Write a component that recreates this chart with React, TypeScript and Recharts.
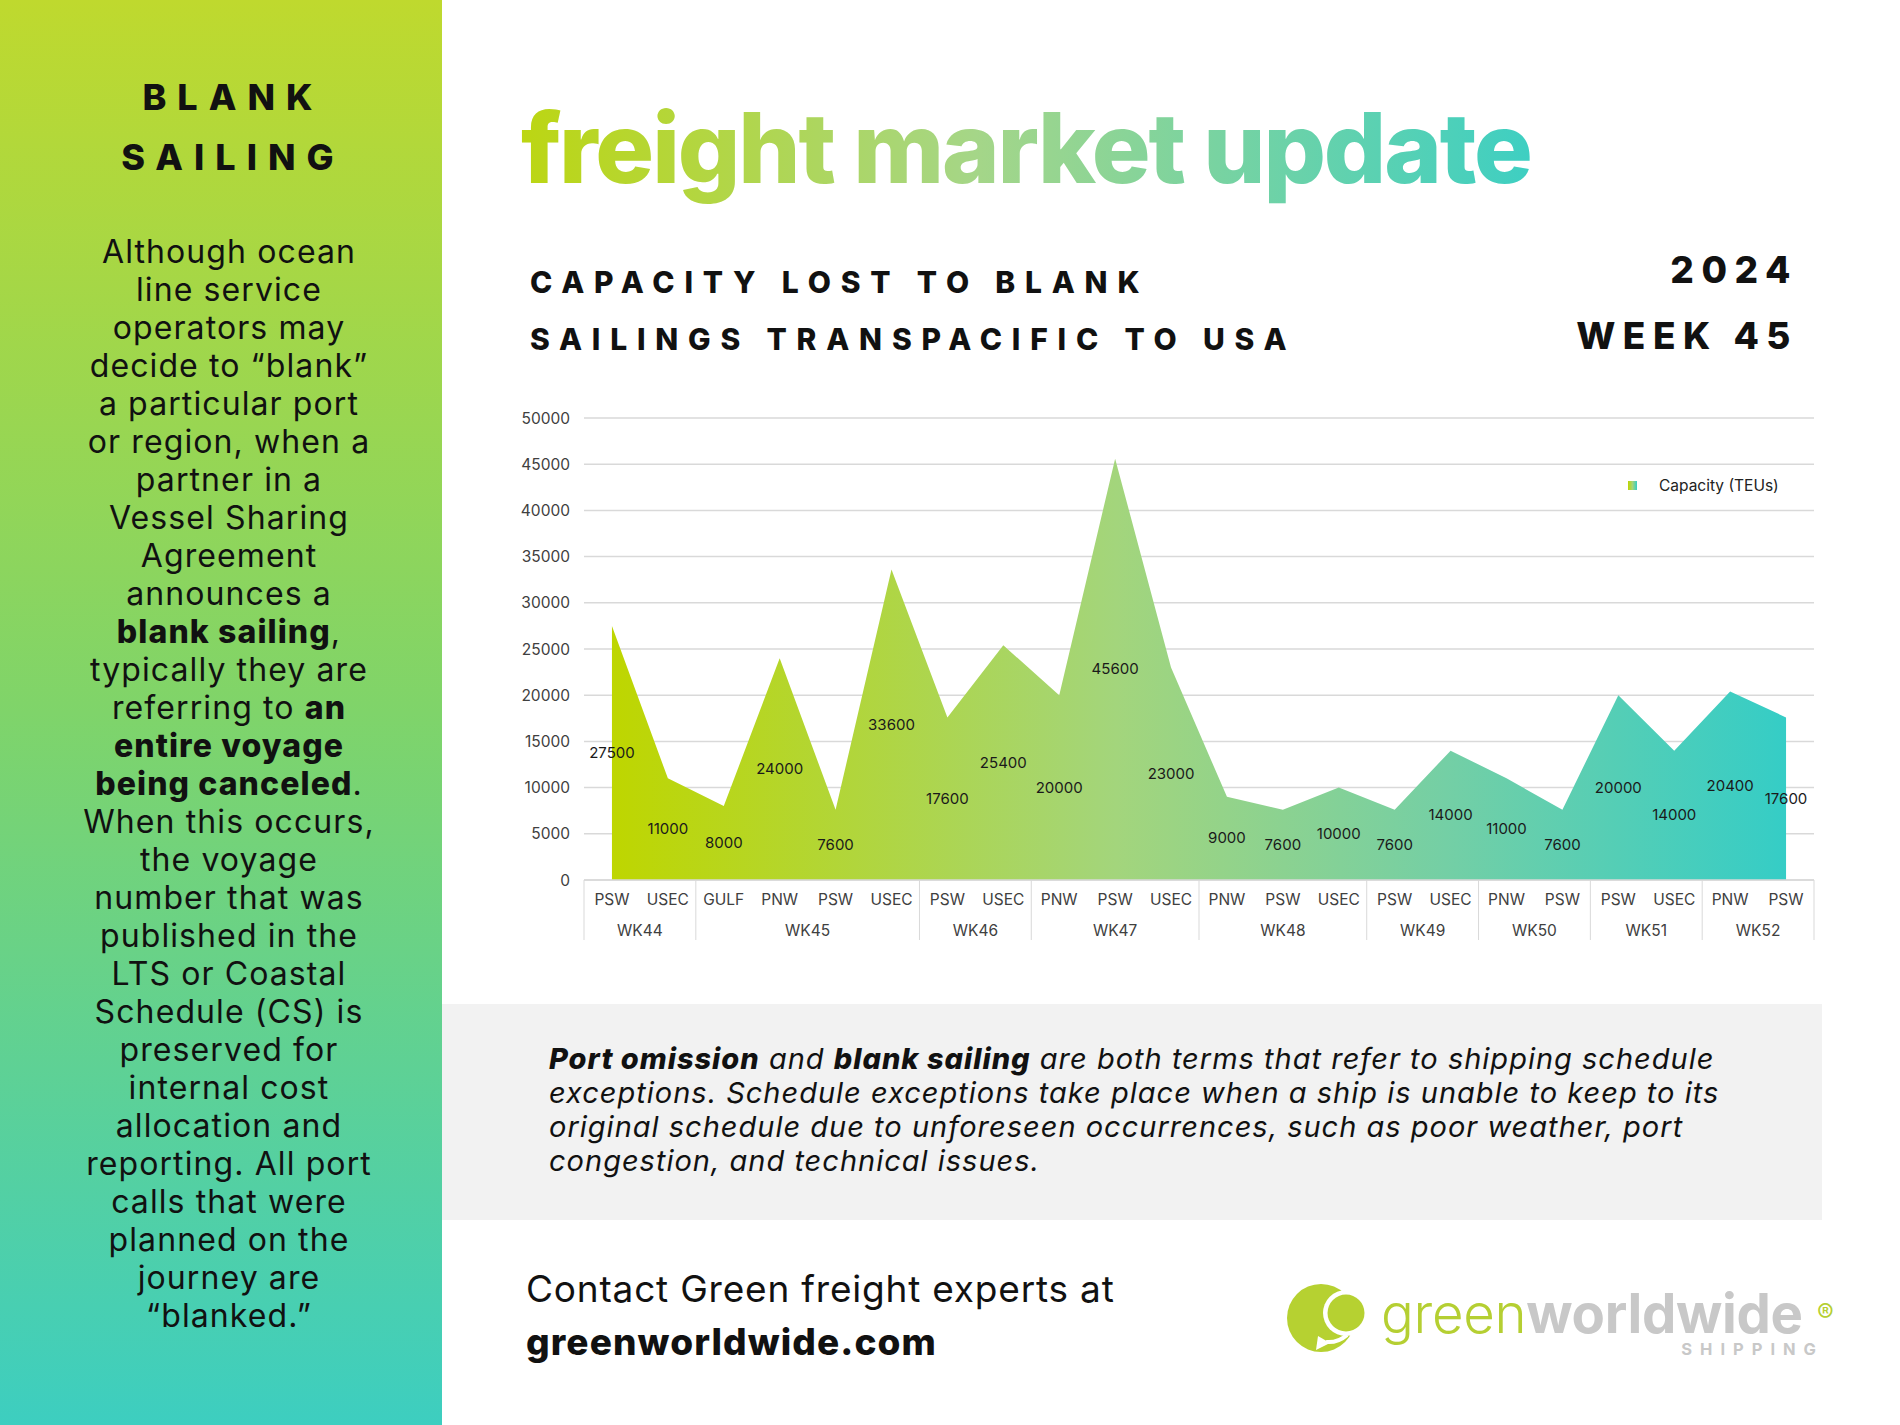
import React from 'react'
import {
  ComposedChart,
  Area,
  XAxis,
  YAxis,
  CartesianGrid,
  Legend,
  LabelList,
} from 'recharts'

// one entry per blanked sailing, in axis order
const ports = ['PSW', 'USEC', 'GULF', 'PNW', 'PSW', 'USEC', 'PSW', 'USEC', 'PNW', 'PSW', 'USEC', 'PNW', 'PSW', 'USEC', 'PSW', 'USEC', 'PNW', 'PSW', 'PSW', 'USEC', 'PNW', 'PSW']
const weeks = ['WK44', 'WK44', 'WK45', 'WK45', 'WK45', 'WK45', 'WK46', 'WK46', 'WK47', 'WK47', 'WK47', 'WK48', 'WK48', 'WK48', 'WK49', 'WK49', 'WK50', 'WK50', 'WK51', 'WK51', 'WK52', 'WK52']
const capacity = [27500, 11000, 8000, 24000, 7600, 33600, 17600, 25400, 20000, 45600, 23000, 9000, 7600, 10000, 7600, 14000, 11000, 7600, 20000, 14000, 20400, 17600]
const yTicks = [0, 5000, 10000, 15000, 20000, 25000, 30000, 35000, 40000, 45000, 50000]

const data = ports.map((port, i) => ({
  key: `${weeks[i]}-${port}-${i}`,
  port,
  week: weeks[i],
  capacity: capacity[i],
}))

const FONT = 'Inter, "Open Sans", sans-serif'
const CHART_W = 1330
const CHART_H = 560
const MARGIN = { top: 18, right: 16, left: 0, bottom: 0 }
const Y_W = 84
const X_H = 80
const PLOT_W = CHART_W - Y_W - MARGIN.right
const PLOT_BOTTOM = CHART_H - X_H
const STEP = PLOT_W / ports.length
const GRID = '#d9d9d9'
const AXIS_TEXT = 15.5

const groupSize = (i: number) => weeks.filter((w) => w === weeks[i]).length

const PortTick = (props: any) => {
  const { x, y, index } = props
  const i = index ?? props.payload?.index ?? 0
  const first = i === 0 || weeks[i - 1] !== weeks[i]
  const last = i === ports.length - 1
  const n = groupSize(i)
  return (
    <g>
      <text x={x} y={y + 25} textAnchor="middle" fontSize={AXIS_TEXT} fill="#404040" fontFamily={FONT}>
        {ports[i]}
      </text>
      {first && (
        <line x1={x - STEP / 2} x2={x - STEP / 2} y1={y} y2={y + 60} stroke={GRID} />
      )}
      {last && (
        <line x1={x + STEP / 2} x2={x + STEP / 2} y1={y} y2={y + 60} stroke={GRID} />
      )}
      {first && (
        <text x={x + ((n - 1) * STEP) / 2} y={y + 56} textAnchor="middle" fontSize={AXIS_TEXT} fill="#404040" fontFamily={FONT}>
          {weeks[i]}
        </text>
      )}
    </g>
  )
}

// Excel style "center" labels: halfway between the point and the baseline
const MidLabel = (props: any) => {
  const x = props.x ?? props.viewBox?.x
  const y = props.y ?? props.viewBox?.y
  if (x == null || y == null) return null
  return (
    <text x={x} y={(y + PLOT_BOTTOM) / 2} dy={5} textAnchor="middle" fontSize={15} fill="#1a1a1a" fontFamily={FONT}>
      {props.value}
    </text>
  )
}

const LegendBox = () => (
  <div style={{ display: 'flex', alignItems: 'center', fontFamily: FONT, fontSize: 15.5, color: '#222', whiteSpace: 'nowrap' }}>
    <span
      style={{
        width: 9,
        height: 9,
        marginRight: 22,
        background: 'linear-gradient(to right, #bed600, #a3d57c, #35cdc6)',
      }}
    />
    Capacity (TEUs)
  </div>
)

const CapacityChart = () => (
  <ComposedChart width={CHART_W} height={CHART_H} data={data} margin={MARGIN}>
    <defs>
      <linearGradient id="capFill" x1="0" y1="0" x2="1" y2="0">
        <stop offset="0" stopColor="#bed600" />
        <stop offset="0.43" stopColor="#a3d57c" />
        <stop offset="0.71" stopColor="#74cfa5" />
        <stop offset="1" stopColor="#35cdc6" />
      </linearGradient>
    </defs>
    <CartesianGrid vertical={false} stroke={GRID} strokeWidth={1.5} />
    <XAxis
      dataKey="key"
      interval={0}
      height={X_H}
      padding={{ left: STEP / 2, right: STEP / 2 }}
      tickLine={false}
      tickSize={0}
      tickMargin={0}
      axisLine={{ stroke: GRID, strokeWidth: 1.5 }}
      tick={<PortTick />}
    />
    <YAxis
      width={Y_W}
      domain={[0, 50000]}
      ticks={yTicks}
      interval={0}
      axisLine={false}
      tickLine={false}
      tickMargin={8}
      tick={{ fontSize: AXIS_TEXT, fill: '#404040', fontFamily: FONT }}
    />
    <Legend
      layout="horizontal"
      verticalAlign="middle"
      align="center"
      content={<LegendBox />}
      wrapperStyle={{ top: 76, left: 1128, width: 'auto' }}
    />
    <Area
      dataKey="capacity"
      name="Capacity (TEUs)"
      type="linear"
      stroke="none"
      fill="url(#capFill)"
      fillOpacity={1}
      isAnimationActive={false}
    >
      <LabelList dataKey="capacity" content={<MidLabel />} />
    </Area>
  </ComposedChart>
)

const sideLines: [string, boolean][][] = [
  [['Although ocean', false]],
  [['line service', false]],
  [['operators may', false]],
  [['decide to “blank”', false]],
  [['a particular port', false]],
  [['or region, when a', false]],
  [['partner in a', false]],
  [['Vessel Sharing', false]],
  [['Agreement', false]],
  [['announces a', false]],
  [['blank sailing', true], [',', false]],
  [['typically they are', false]],
  [['referring to ', false], ['an', true]],
  [['entire voyage', true]],
  [['being canceled', true], ['.', false]],
  [['When this occurs,', false]],
  [['the voyage', false]],
  [['number that was', false]],
  [['published in the', false]],
  [['LTS or Coastal', false]],
  [['Schedule (CS) is', false]],
  [['preserved for', false]],
  [['internal cost', false]],
  [['allocation and', false]],
  [['reporting. All port', false]],
  [['calls that were', false]],
  [['planned on the', false]],
  [['journey are', false]],
  [['“blanked.”', false]],
]

const noteLines: [string, boolean][][] = [
  [['Port omission', true], [' and ', false], ['blank sailing', true], [' are both terms that refer to shipping schedule', false]],
  [['exceptions. Schedule exceptions take place when a ship is unable to keep to its', false]],
  [['original schedule due to unforeseen occurrences, such as poor weather, port', false]],
  [['congestion, and technical issues.', false]],
]

const LIME = '#b6d131'

const Page = () => (
  <svg width={1900} height={1425} style={{ position: 'absolute', left: 0, top: 0 }} fontFamily={FONT}>
    <defs>
      <linearGradient id="titleFill" x1="0" y1="0" x2="1" y2="0">
        <stop offset="0" stopColor="#bcd612" />
        <stop offset="0.45" stopColor="#a5d688" />
        <stop offset="1" stopColor="#3ecfc2" />
      </linearGradient>
    </defs>

    <text x={233} y={110} textAnchor="middle" fontSize={36} fontWeight={800} letterSpacing={11} fill="#111">BLANK</text>
    <text x={233} y={170} textAnchor="middle" fontSize={36} fontWeight={800} letterSpacing={11} fill="#111">SAILING</text>
    {sideLines.map((parts, i) => (
      <text key={i} x={229} y={263 + i * 38} textAnchor="middle" fontSize={32} fill="#111" letterSpacing={1.1}>
        {parts.map(([t, b], j) => (
          <tspan key={j} fontWeight={b ? 800 : 400}>{t}</tspan>
        ))}
      </text>
    ))}

    <text x={521} y={183} fontSize={98} fontWeight={800} letterSpacing={-2.1} fill="url(#titleFill)">
      freight market update
    </text>

    <text x={530} y={293} fontSize={30} fontWeight={800} letterSpacing={9.8} fill="#111">CAPACITY LOST TO BLANK</text>
    <text x={530} y={350} fontSize={30} fontWeight={800} letterSpacing={9.8} fill="#111">SAILINGS TRANSPACIFIC TO USA</text>
    <text x={1798} y={283} textAnchor="end" fontSize={37} fontWeight={800} letterSpacing={7.5} fill="#111">2024</text>
    <text x={1798} y={349} textAnchor="end" fontSize={37} fontWeight={800} letterSpacing={7.5} fill="#111">WEEK 45</text>

    {noteLines.map((parts, i) => (
      <text key={i} x={549} y={1069 + i * 34} fontSize={29} fontStyle="italic" letterSpacing={1} fill="#111">
        {parts.map(([t, b], j) => (
          <tspan key={j} fontWeight={b ? 800 : 400}>{t}</tspan>
        ))}
      </text>
    ))}

    <text x={526} y={1302} fontSize={37} letterSpacing={0.8} fill="#111">Contact Green freight experts at</text>
    <text x={526} y={1355} fontSize={37} fontWeight={800} letterSpacing={1.1} fill="#111">greenworldwide.com</text>

    <g>
      <circle cx={1321} cy={1318} r={34} fill={LIME} />
      <circle cx={1346} cy={1313} r={23} fill="#fff" />
      <circle cx={1346} cy={1313} r={18.5} fill={LIME} />
      <path d="M1326 1342 Q1338 1343 1347 1335" stroke="#fff" strokeWidth={4} fill="none" />
      <path d="M1316 1350 L1318 1336 L1330 1343 Z" fill="#fff" />
    </g>
    <text x={1381} y={1333} fontSize={54.5} letterSpacing={-0.3}>
      <tspan fontWeight={300} fill="#b5cf32">green</tspan>
      <tspan fontWeight={700} fill="#c8c8c8">worldwide</tspan>
    </text>
    <text x={1817} y={1322} fontSize={25} fill="#b5cf32">®</text>
    <text x={1824} y={1355} textAnchor="end" fontSize={16.5} fontWeight={700} letterSpacing={8} fill="#c8c8c8">SHIPPING</text>
  </svg>
)

export default function App() {
  return (
    <div style={{ position: 'absolute', left: 0, top: 0, width: 1900, height: 1425, background: '#fff', overflow: 'hidden' }}>
      <div
        style={{
          position: 'absolute',
          left: 0,
          top: 0,
          width: 442,
          height: 1425,
          background: 'linear-gradient(to bottom, #bfd92e 0%, #7fd46a 50%, #3dcec0 100%)',
        }}
      />
      <div style={{ position: 'absolute', left: 442, top: 1004, width: 1380, height: 216, background: '#f2f2f2' }} />
      <Page />
      <div style={{ position: 'absolute', left: 500, top: 400 }}>
        <CapacityChart />
      </div>
    </div>
  )
}
